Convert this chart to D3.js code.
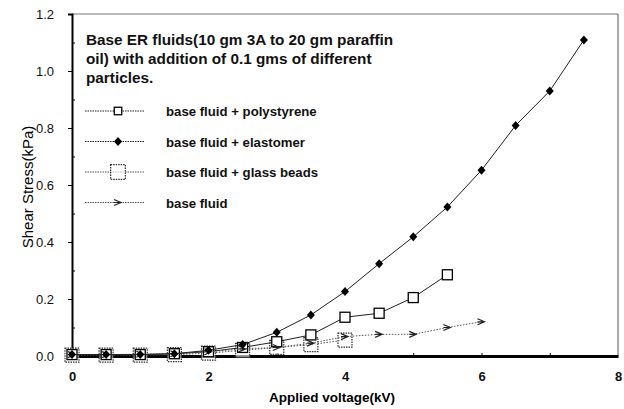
<!DOCTYPE html>
<html>
<head>
<meta charset="utf-8">
<script src="https://cdn.jsdelivr.net/npm/d3@7"></script>
<style>
  body { margin: 0; background: #fff; }
  svg { display: block; font-family: "Liberation Sans", Arial, sans-serif; }
</style>
</head>
<body>
<svg width="624" height="409"></svg>
<script>
// voltage steps (kV)
const voltage = [0, 0.5, 1, 1.5, 2, 2.5, 3, 3.5, 4, 4.5, 5, 5.5, 6, 6.5, 7, 7.5];

// shear stress (kPa) per series
const polystyrene = [0.005, 0.005, 0.005, 0.008, 0.015, 0.03, 0.05, 0.074, 0.136, 0.15, 0.205, 0.285];
const elastomer = [0.005, 0.005, 0.005, 0.008, 0.02, 0.04, 0.083, 0.144, 0.226, 0.324, 0.418, 0.523, 0.652, 0.809, 0.93, 1.109];
const glassBeads = [0.003, 0.003, 0.003, 0.005, 0.01, 0.02, 0.03, 0.04, 0.056];
const baseFluid = [0.005, 0.005, 0.006, 0.008, 0.015, 0.025, 0.03, 0.045, 0.068, 0.076, 0.076, 0.1, 0.12];

const seriesNames = ["base fluid + polystyrene", "base fluid + elastomer", "base fluid + glass beads", "base fluid"];
const xTicks = [0, 2, 4, 6, 8];
const yTicks = [0, 0.2, 0.4, 0.6, 0.8, 1.0, 1.2];
const titleLines = ["Base ER fluids(10 gm 3A to 20 gm paraffin", "oil)  with addition of 0.1 gms of different", "particles."];

const svg = d3.select("svg");
const pLeft = 72, pRight = 618, pTop = 14, pBottom = 356;

const x = d3.scaleLinear().domain([0, 8]).range([pLeft, pRight]);
const y = d3.scaleLinear().domain([0, 1.2]).range([pBottom, pTop]);

// frame
svg.append("line").attr("x1", pLeft).attr("x2", pRight).attr("y1", pTop).attr("y2", pTop)
  .attr("stroke", "#777").attr("stroke-width", 1);
svg.append("line").attr("x1", pRight).attr("x2", pRight).attr("y1", pTop).attr("y2", pBottom)
  .attr("stroke", "#555").attr("stroke-width", 1);

// y axis
const yAxis = svg.append("g").attr("transform", `translate(${pLeft},0)`)
  .call(d3.axisLeft(y).tickValues(yTicks).tickFormat(d3.format(".1f")).tickSize(4).tickPadding(14));
yAxis.select(".domain").attr("stroke-width", 2);
yAxis.selectAll("text").attr("font-size", 13).attr("fill", "#111");
svg.append("g").attr("transform", `translate(${pLeft},0)`)
  .call(d3.axisRight(y).tickValues([0.1, 0.3, 0.5, 0.7, 0.9, 1.1]).tickSize(3).tickFormat(""))
  .select(".domain").remove();

// x axis
const xAxis = svg.append("g").attr("transform", `translate(0,${pBottom})`)
  .call(d3.axisBottom(x).tickValues(xTicks).tickSize(0).tickPadding(16));
xAxis.select(".domain").attr("stroke-width", 3);
xAxis.selectAll("text").attr("font-size", 13).attr("font-weight", "bold").attr("fill", "#111");
svg.append("g").attr("transform", `translate(0,${pBottom})`)
  .call(d3.axisTop(x).tickValues([1, 3, 5, 6, 7]).tickSize(3).tickFormat(""))
  .select(".domain").remove();

// axis titles
svg.append("text").attr("x", 332).attr("y", 402).attr("text-anchor", "middle")
  .attr("font-size", 13.5).attr("font-weight", "bold").text("Applied voltage(kV)");
svg.append("text").attr("transform", "translate(33,187) rotate(-90)").attr("text-anchor", "middle")
  .attr("font-size", 15).text("Shear Stress(kPa)");

// marker drawing
function drawMarker(g, kind, cx, cy, s) {
  s = s || 1;
  if (kind === 0) {
    const h = 5 * s;
    g.append("rect").attr("x", cx - h).attr("y", cy - h).attr("width", 2 * h).attr("height", 2 * h)
      .attr("fill", "#fff").attr("stroke", "#000").attr("stroke-width", 1.3);
  } else if (kind === 1) {
    g.append("path").attr("d", `M${cx},${cy - 4.5}L${cx + 4},${cy}L${cx},${cy + 4.5}L${cx - 4},${cy}Z`)
      .attr("fill", "#000");
  } else if (kind === 2) {
    const h = 7 * s;
    g.append("rect").attr("x", cx - h).attr("y", cy - h).attr("width", 2 * h).attr("height", 2 * h)
      .attr("fill", "#fff").attr("fill-opacity", 0.6).attr("stroke", "#333").attr("stroke-width", 1.2)
      .attr("stroke-dasharray", "1.5,1");
  } else {
    g.append("path").attr("d", `M${cx - 4},${cy - 3}L${cx + 3},${cy}L${cx - 4},${cy + 3}M${cx - 4},${cy}L${cx + 3},${cy}`)
      .attr("fill", "none").attr("stroke", "#222").attr("stroke-width", 1.2);
  }
}

const allSeries = [polystyrene, elastomer, glassBeads, baseFluid];
const lineStyles = [
  { stroke: "#222", width: 1, dash: null },
  { stroke: "#222", width: 1, dash: null },
  { stroke: "#555", width: 1, dash: "1.5,1.5" },
  { stroke: "#555", width: 1, dash: "1.5,1.5" }
];

const line = d3.line().x(d => x(d[0])).y(d => y(d[1]));
const plot = svg.append("g");
// draw back to front: glass beads first
[2, 0, 3, 1].forEach(k => {
  const pts = allSeries[k].map((v, i) => [voltage[i], v]);
  const st = lineStyles[k];
  plot.append("path").datum(pts).attr("d", line).attr("fill", "none")
    .attr("stroke", st.stroke).attr("stroke-width", st.width).attr("stroke-dasharray", st.dash);
  const mg = plot.append("g");
  pts.forEach(p => drawMarker(mg, k, x(p[0]), y(p[1])));
});

// title + legend
const leg = svg.append("g");
titleLines.forEach((t, i) => {
  leg.append("text").attr("x", 86).attr("y", 45 + i * 19).attr("font-size", 15.3)
    .attr("font-weight", "bold").attr("fill", "#111").text(t);
});
seriesNames.forEach((name, k) => {
  const ly = 111 + k * 30.5;
  const st = lineStyles[k];
  leg.append("line").attr("x1", 85).attr("x2", 145).attr("y1", ly).attr("y2", ly)
    .attr("stroke", st.stroke).attr("stroke-width", st.width).attr("stroke-dasharray", "1.5,1");
  drawMarker(leg, k, 118, ly, k === 0 ? 0.75 : 1.05);
  leg.append("text").attr("x", 166).attr("y", ly + 5).attr("font-size", 13.2)
    .attr("font-weight", "bold").attr("fill", "#111").text(name);
});
</script>
</body>
</html>
